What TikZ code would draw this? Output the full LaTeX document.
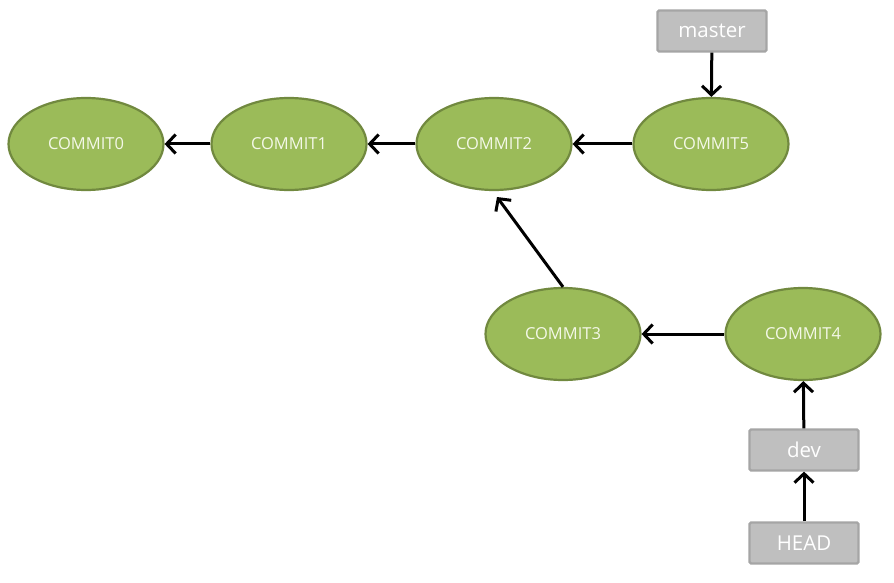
\documentclass[tikz,border=0pt]{standalone}
\usepackage{fontspec}
\setmainfont{Open Sans}
\usetikzlibrary{arrows.meta,shapes.geometric}
\definecolor{cfill}{HTML}{9BBB59}
\definecolor{cline}{HTML}{71893F}
\definecolor{rfill}{HTML}{BFBFBF}
\definecolor{rline}{HTML}{A5A5A5}
\definecolor{ctext}{HTML}{F4F8E8}
\tikzset{
  commit/.style={ellipse, draw=cline, fill=cfill, line width=2.2pt, minimum width=155pt, minimum height=92pt, inner sep=0pt, text=ctext, font=\fontsize{16.5}{16.5}\selectfont},
  ref/.style={rectangle, draw=rline, fill=rfill, line width=2.2pt, rounded corners=1.5pt, minimum width=109pt, minimum height=41pt, inner sep=0pt, text=white, font=\fontsize{20.5}{20.5}\selectfont},
  conn/.style={-{Straight Barb[length=9pt,width=19pt,line width=3pt]}, line width=3pt, black}
}
\begin{document}
\begin{tikzpicture}[x=1pt,y=-1pt]
\useasboundingbox (0,0) rectangle (894,583);
\node[commit] (c0) at (86,144) {COMMIT0};
\node[commit] (c1) at (289,144) {COMMIT1};
\node[commit] (c2) at (494,144) {COMMIT2};
\node[commit] (c5) at (711,144) {COMMIT5};
\node[commit] (c3) at (563,334) {COMMIT3};
\node[commit] (c4) at (803,334) {COMMIT4};
\node[ref] (master) at (712,31) {master};
\node[ref] (dev) at (804,450) {dev};
\node[ref] (head) at (804,543) {HEAD};
\draw[conn] (c1) -- (c0);
\draw[conn] (c2) -- (c1);
\draw[conn] (c5) -- (c2);
\draw[conn] (c4) -- (c3);
\draw[conn] (c3.north) -- (497,197);
\draw[conn] (master) -- (c5);
\draw[conn] (dev) -- (c4);
\draw[conn] (head) -- (dev);
\end{tikzpicture}
\end{document}
